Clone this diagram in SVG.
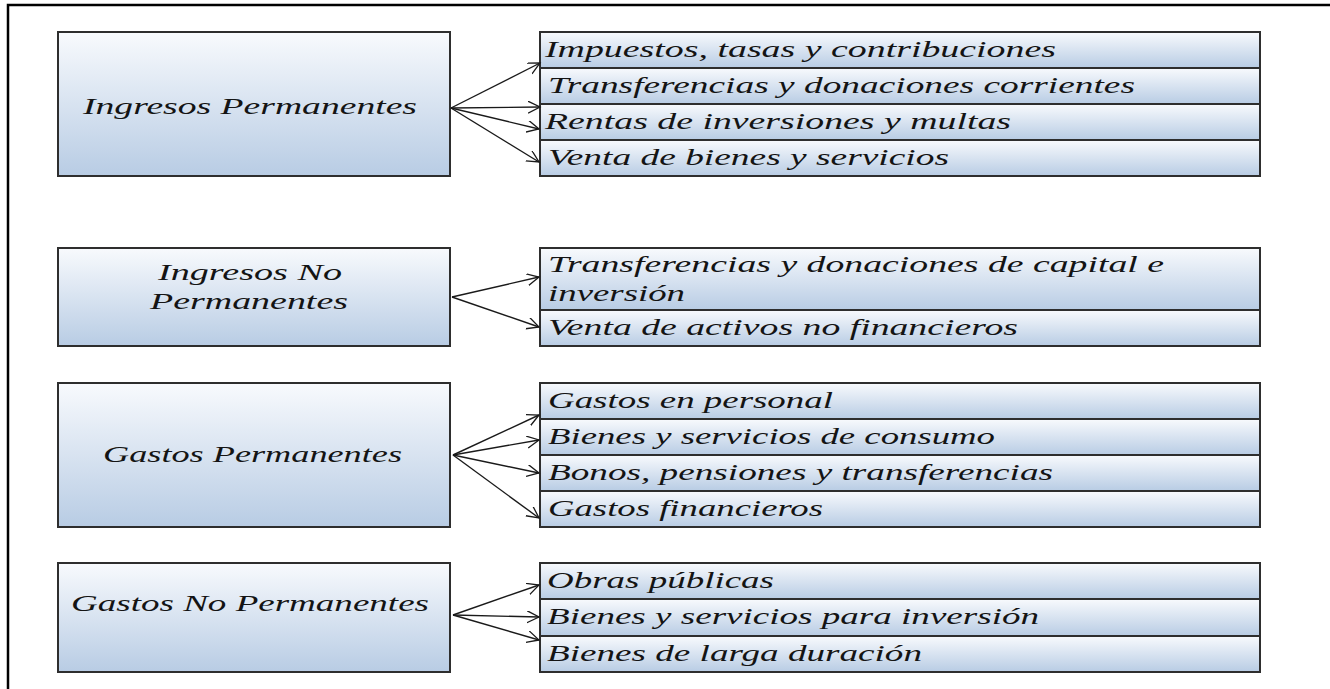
<svg xmlns="http://www.w3.org/2000/svg" width="1330" height="689" viewBox="0 0 1330 689">
<defs>
<linearGradient id="g" x1="0" y1="0" x2="0" y2="1">
<stop offset="0" stop-color="#f8fafd"/>
<stop offset="1" stop-color="#b8cce4"/>
</linearGradient>
<marker id="arr" markerUnits="userSpaceOnUse" markerWidth="14" markerHeight="14" refX="12" refY="6" orient="auto">
<path d="M0,0 L12,6 L0,12" fill="none" stroke="#1a1a1a" stroke-width="1.3"/>
</marker>
<style>
.box{fill:url(#g);stroke:#2e2e2e;stroke-width:2}
.t{font-family:"Liberation Serif","Times New Roman",serif;font-style:italic;font-size:23px;fill:#141414}
.c{stroke:#1a1a1a;stroke-width:1.4;fill:none;marker-end:url(#arr)}
</style>
</defs>
<rect x="8" y="5" width="1400" height="800" fill="#ffffff" stroke="#000000" stroke-width="2.5"/>

<g id="ingresos-permanentes">
<rect class="box" x="58" y="32" width="392" height="144"/>
<text class="t" x="83" y="114" textLength="334" lengthAdjust="spacingAndGlyphs">Ingresos Permanentes</text>
</g>
<g id="impuestos">
<rect class="box" x="540" y="32" width="720" height="36"/>
<text class="t" x="545" y="57" textLength="511" lengthAdjust="spacingAndGlyphs">Impuestos, tasas y contribuciones</text>
</g>
<g id="transferencias-corrientes">
<rect class="box" x="540" y="68" width="720" height="36"/>
<text class="t" x="548" y="93" textLength="587" lengthAdjust="spacingAndGlyphs">Transferencias y donaciones corrientes</text>
</g>
<g id="rentas">
<rect class="box" x="540" y="104" width="720" height="36"/>
<text class="t" x="545" y="129" textLength="466" lengthAdjust="spacingAndGlyphs">Rentas de inversiones y multas</text>
</g>
<g id="venta-bienes">
<rect class="box" x="540" y="140" width="720" height="36"/>
<text class="t" x="548" y="165" textLength="401" lengthAdjust="spacingAndGlyphs">Venta de bienes y servicios</text>
</g>

<g id="ingresos-no-permanentes">
<rect class="box" x="58" y="248" width="392" height="98"/>
<text class="t" x="158" y="280" textLength="184" lengthAdjust="spacingAndGlyphs">Ingresos No</text>
<text class="t" x="150" y="309" textLength="198" lengthAdjust="spacingAndGlyphs">Permanentes</text>
</g>
<g id="transferencias-capital">
<rect class="box" x="540" y="248" width="720" height="62"/>
<text class="t" x="548" y="272" textLength="616" lengthAdjust="spacingAndGlyphs">Transferencias y donaciones de capital e</text>
<text class="t" x="548" y="301" textLength="137" lengthAdjust="spacingAndGlyphs">inversión</text>
</g>
<g id="venta-activos">
<rect class="box" x="540" y="310" width="720" height="36"/>
<text class="t" x="548" y="335" textLength="470" lengthAdjust="spacingAndGlyphs">Venta de activos no financieros</text>
</g>

<g id="gastos-permanentes">
<rect class="box" x="58" y="383" width="392" height="144"/>
<text class="t" x="103" y="462" textLength="299" lengthAdjust="spacingAndGlyphs">Gastos Permanentes</text>
</g>
<g id="gastos-personal">
<rect class="box" x="540" y="383" width="720" height="36"/>
<text class="t" x="548" y="408" textLength="285" lengthAdjust="spacingAndGlyphs">Gastos en personal</text>
</g>
<g id="bienes-consumo">
<rect class="box" x="540" y="419" width="720" height="36"/>
<text class="t" x="548" y="444" textLength="447" lengthAdjust="spacingAndGlyphs">Bienes y servicios de consumo</text>
</g>
<g id="bonos">
<rect class="box" x="540" y="455" width="720" height="36"/>
<text class="t" x="548" y="480" textLength="505" lengthAdjust="spacingAndGlyphs">Bonos, pensiones y transferencias</text>
</g>
<g id="gastos-financieros">
<rect class="box" x="540" y="491" width="720" height="36"/>
<text class="t" x="548" y="516" textLength="275" lengthAdjust="spacingAndGlyphs">Gastos financieros</text>
</g>

<g id="gastos-no-permanentes">
<rect class="box" x="58" y="563" width="392" height="109"/>
<text class="t" x="71" y="611" textLength="358" lengthAdjust="spacingAndGlyphs">Gastos No Permanentes</text>
</g>
<g id="obras-publicas">
<rect class="box" x="540" y="563" width="720" height="36"/>
<text class="t" x="547" y="588" textLength="227" lengthAdjust="spacingAndGlyphs">Obras públicas</text>
</g>
<g id="bienes-inversion">
<rect class="box" x="540" y="599" width="720" height="37"/>
<text class="t" x="547" y="624" textLength="492" lengthAdjust="spacingAndGlyphs">Bienes y servicios para inversión</text>
</g>
<g id="bienes-larga">
<rect class="box" x="540" y="636" width="720" height="36"/>
<text class="t" x="547" y="661" textLength="375" lengthAdjust="spacingAndGlyphs">Bienes de larga duración</text>
</g>

<g id="connectors">
<line class="c" x1="451" y1="108" x2="540" y2="63"/>
<line class="c" x1="451" y1="108" x2="540" y2="107"/>
<line class="c" x1="451" y1="108" x2="539" y2="129"/>
<line class="c" x1="451" y1="108" x2="539" y2="162"/>
<line class="c" x1="452" y1="297" x2="539" y2="277"/>
<line class="c" x1="452" y1="297" x2="539" y2="327"/>
<line class="c" x1="453" y1="455" x2="539" y2="415"/>
<line class="c" x1="453" y1="455" x2="539" y2="440"/>
<line class="c" x1="453" y1="455" x2="539" y2="473"/>
<line class="c" x1="453" y1="455" x2="539" y2="518"/>
<line class="c" x1="453" y1="615" x2="539" y2="585"/>
<line class="c" x1="453" y1="615" x2="539" y2="617"/>
<line class="c" x1="453" y1="615" x2="539" y2="640"/>
</g>
</svg>
